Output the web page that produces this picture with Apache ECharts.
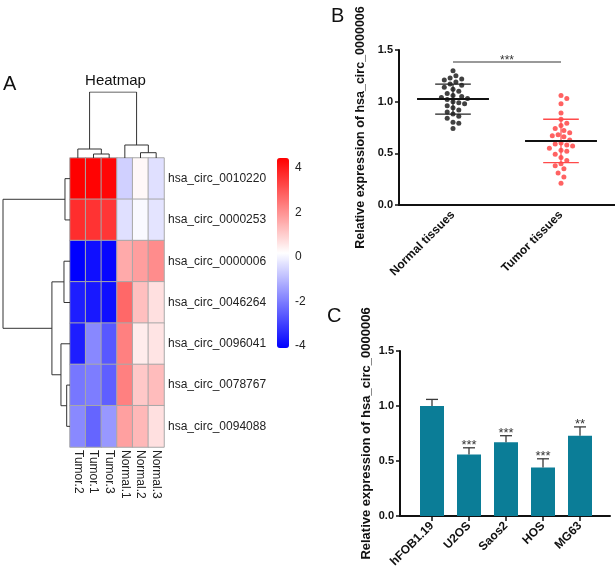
<!DOCTYPE html>
<html>
<head>
<meta charset="utf-8">
<script src="https://cdn.jsdelivr.net/npm/echarts@6/dist/echarts.min.js"></script>
<style>
html,body{margin:0;padding:0;background:#fff;}
#chart{width:615px;height:571px;}
</style>
</head>
<body>
<div id="chart"></div>
<script>
// ---------- Panel A data ----------
const heatCols = ['Tumor.2', 'Tumor.1', 'Tumor.3', 'Normal.1', 'Normal.2', 'Normal.3'];
const heatRows = ['hsa_circ_0010220', 'hsa_circ_0000253', 'hsa_circ_0000006', 'hsa_circ_0046264', 'hsa_circ_0096041', 'hsa_circ_0078767', 'hsa_circ_0094088'];
const heatValues = [
  [4.45, 4.40, 4.35, -0.61, 0.30, -0.34],
  [3.70, 3.60, 3.55, -0.34, 0.08, -0.27],
  [-4.10, -3.85, -4.00, 1.60, 1.80, 2.10],
  [-3.60, -3.70, -3.85, 2.70, 1.24, 0.69],
  [-3.60, -1.82, -2.63, 2.31, 0.50, 0.63],
  [-2.10, -2.00, -2.50, 2.30, 1.10, 1.30],
  [-1.80, -2.40, -1.55, 1.77, 1.37, 0.69]
];
const heatMin = -4.1, heatMax = 4.45;
const colorbarTicks = [-4, -2, 0, 2, 4];
// dendrogram merges: [childA, childB, height]; leaves 'L<i>', merges 'M<i>'
const rowMerges = [
  ['L0', 'L1', 5],
  ['L5', 'L6', 3.3],
  ['L2', 'L3', 6],
  ['L4', 'M1', 9],
  ['M2', 'M3', 18],
  ['M0', 'M4', 66.7]
];
const colMerges = [
  ['L1', 'L2', 4],
  ['L0', 'M0', 9],
  ['L4', 'L5', 5.3],
  ['L3', 'M2', 13],
  ['M1', 'M3', 66]
];

// ---------- Panel B data ----------
const tissueGroups = ['Normal tissues', 'Tumor tissues'];
const normalVals = [1.30, 1.25, 1.23, 1.22, 1.21, 1.19, 1.17, 1.16, 1.14, 1.12, 1.10, 1.08, 1.06, 1.05, 1.04,
  1.03, 1.02, 1.00, 0.99, 0.98, 0.96, 0.94, 0.92, 0.90, 0.88, 0.86, 0.84, 0.80, 0.79, 0.74];
const tumorVals = [1.06, 1.03, 0.98, 0.89, 0.83, 0.79, 0.77, 0.74, 0.72, 0.70, 0.68, 0.67, 0.66, 0.63, 0.60,
  0.59, 0.58, 0.57, 0.55, 0.53, 0.52, 0.49, 0.46, 0.43, 0.40, 0.38, 0.35, 0.31, 0.27, 0.21];
const groupMeans = [1.025, 0.62];
const groupSDs = [0.145, 0.21];
const sigLevelB = 1.385;
const sigTextB = '***';

// ---------- Panel C data ----------
const cellLines = ['hFOB1.19', 'U2OS', 'Saos2', 'HOS', 'MG63'];
const cellMeans = [1.00, 0.56, 0.67, 0.44, 0.73];
const cellErr = [0.06, 0.06, 0.06, 0.08, 0.08];
const cellStars = ['', '***', '***', '***', '**'];

const yTicks = [0, 0.5, 1.0, 1.5];

// ---------- helpers ----------
const FONT = 'Liberation Sans, Arial, sans-serif';
function dendroSegments(merges, nLeaves) {
  const nodes = {};
  for (let i = 0; i < nLeaves; i++) nodes['L' + i] = { pos: i + 0.5, h: 0 };
  const segs = [];
  merges.forEach((m, k) => {
    const a = nodes[m[0]], b = nodes[m[1]], h = m[2];
    nodes['M' + k] = { pos: (a.pos + b.pos) / 2, h: h };
    segs.push([[a.h, a.pos], [h, a.pos], [h, b.pos], [b.h, b.pos]]);
  });
  return segs;
}
const rowSegs = dendroSegments(rowMerges, heatRows.length).map(s => ({ coords: s }));
const colSegs = dendroSegments(colMerges, heatCols.length).map(s => ({ coords: s.map(p => [p[1], p[0]]) }));

const heatData = [];
heatValues.forEach((row, r) => row.forEach((v, c) => heatData.push([c, r, v])));

// beeswarm layout of dots (value axis x: 0..2 over 216px, y: 0..1.5 over 155px)
function swarm(vals, center) {
  const xPx = 108, yPx = 155 / 1.5, d = 5.6, step = 2.9;
  const placed = [];
  const order = vals.map((v, i) => i).sort((a, b) => vals[b] - vals[a]);
  const out = new Array(vals.length);
  order.forEach(i => {
    const y = vals[i];
    for (let k = 0; k < 40; k++) {
      const off = (k === 0 ? 0 : (k % 2 ? 1 : -1) * Math.ceil(k / 2)) * step;
      const ok = placed.every(p => {
        const dx = off - p[0], dy = (y - p[1]) * yPx;
        return dx * dx + dy * dy >= d * d;
      });
      if (ok) { placed.push([off, y]); out[i] = [center + off / xPx, y]; break; }
    }
  });
  return out;
}
const normalPts = swarm(normalVals, 0.5);
const tumorPts = swarm(tumorVals, 1.5);

const axisBold = { fontFamily: FONT, fontWeight: 'bold', color: '#111' };

function summaryRender(meanColor, sdColor) {
  return function (params, api) {
    const c = api.value(0), m = api.value(1), s = api.value(2);
    const line = (x1, y1, x2, y2, col, w) => ({
      type: 'line',
      shape: { x1: x1[0], y1: y1, x2: x2[0], y2: y2 },
      style: { stroke: col, lineWidth: w }
    });
    const pm1 = api.coord([c - 0.333, m]), pm2 = api.coord([c + 0.333, m]);
    const pu1 = api.coord([c - 0.165, m + s]), pu2 = api.coord([c + 0.165, m + s]);
    const pl1 = api.coord([c - 0.165, m - s]), pl2 = api.coord([c + 0.165, m - s]);
    const pc = api.coord([c, m + s]), pcl = api.coord([c, m - s]);
    return {
      type: 'group', children: [
        line(pc, pc[1], pcl, pcl[1], sdColor, 1.2),
        line(pu1, pu1[1], pu2, pu2[1], sdColor, 1.3),
        line(pl1, pl1[1], pl2, pl2[1], sdColor, 1.3),
        line(pm1, pm1[1], pm2, pm2[1], meanColor, 2)
      ]
    };
  };
}

const option = {
  animation: false,
  backgroundColor: '#fff',
  textStyle: { fontFamily: FONT },
  graphic: [
    { type: 'text', left: 3, top: 74, style: { text: 'A', font: '20px ' + FONT, fill: '#111' } },
    { type: 'text', left: 331, top: 6, style: { text: 'B', font: '20px ' + FONT, fill: '#111' } },
    { type: 'text', left: 327, top: 306, style: { text: 'C', font: '20px ' + FONT, fill: '#111' } },
    { type: 'text', x: 115.5, y: 81, style: { text: 'Heatmap', font: '15px ' + FONT, fill: '#111', textAlign: 'center', textVerticalAlign: 'middle' } }
  ],
  visualMap: {
    type: 'continuous', min: heatMin, max: heatMax, seriesIndex: 0, calculable: false,
    orient: 'vertical', left: 277, top: 158, itemWidth: 12, itemHeight: 190, padding: 0,
    text: ['', ''], showLabel: false,
    inRange: { color: ['#0000ff', '#ffffff', '#ff0000'] }
  },
  grid: [
    { left: 70, top: 158, width: 94, height: 289 },   // 0 heatmap
    { left: 3, top: 158, width: 67, height: 289 },    // 1 row dendro
    { left: 70, top: 92, width: 94, height: 66 },     // 2 col dendro
    { left: 277, top: 158, width: 12, height: 190 },  // 3 colorbar labels
    { left: 399, top: 50, width: 216, height: 155 },  // 4 panel B
    { left: 400, top: 351, width: 210, height: 165 }, // 5 panel C frame
    { left: 413.5, top: 351, width: 185, height: 165 } // 6 panel C bars
  ],
  xAxis: [
    { gridIndex: 0, type: 'category', data: heatCols, position: 'bottom',
      axisLine: { show: false }, axisTick: { show: false },
      axisLabel: { rotate: -90, fontSize: 12, color: '#222', margin: 3, fontFamily: FONT } },
    { gridIndex: 1, type: 'value', min: 0, max: 66.7, inverse: true, show: false },
    { gridIndex: 2, type: 'value', min: 0, max: 6, show: false },
    { gridIndex: 3, type: 'value', min: 0, max: 1, show: false },
    { gridIndex: 4, type: 'category', data: tissueGroups, boundaryGap: true,
      axisLine: { lineStyle: { color: '#111', width: 2 } },
      axisTick: { alignWithLabel: true, length: 5, lineStyle: { color: '#111', width: 1.5 } },
      axisLabel: Object.assign({ rotate: 45, fontSize: 12, margin: 8, interval: 0 }, axisBold) },
    { gridIndex: 4, type: 'value', min: 0, max: 2, show: false },
    { gridIndex: 5, type: 'value', min: 0, max: 1,
      axisLine: { show: true, onZero: false, lineStyle: { color: '#111', width: 2 } },
      axisTick: { show: false }, axisLabel: { show: false }, splitLine: { show: false } },
    { gridIndex: 6, type: 'category', data: cellLines, boundaryGap: true,
      axisLine: { show: false },
      axisTick: { show: true, alignWithLabel: true, length: 5, lineStyle: { color: '#111', width: 1.5 } },
      axisLabel: Object.assign({ rotate: 45, fontSize: 12, margin: 8, interval: 0 }, axisBold) }
  ],
  yAxis: [
    { gridIndex: 0, type: 'category', data: heatRows, inverse: true, position: 'right',
      axisLine: { show: false }, axisTick: { show: false },
      axisLabel: { fontSize: 12, color: '#222', margin: 4, fontFamily: FONT } },
    { gridIndex: 1, type: 'value', min: 0, max: 7, inverse: true, show: false },
    { gridIndex: 2, type: 'value', min: 0, max: 66, show: false },
    { gridIndex: 3, type: 'value', min: heatMin, max: heatMax, position: 'right',
      axisLine: { show: false }, axisTick: { show: false }, splitLine: { show: false },
      axisLabel: { customValues: colorbarTicks, fontSize: 12, color: '#222', margin: 6, fontFamily: FONT } },
    { gridIndex: 4, type: 'value', min: 0, max: 1.5, interval: 0.5,
      name: 'Relative expression of hsa_circ_0000006', nameLocation: 'middle', nameGap: 32,
      nameTextStyle: { fontSize: 12.5, fontWeight: 'bold', color: '#111', fontFamily: FONT },
      axisLine: { show: true, lineStyle: { color: '#111', width: 2 } },
      axisTick: { show: true, length: 4, lineStyle: { color: '#111', width: 1.5 } },
      splitLine: { show: false },
      axisLabel: Object.assign({ fontSize: 11, margin: 6, formatter: v => v.toFixed(1) }, axisBold) },
    { gridIndex: 5, type: 'value', min: 0, max: 1.5, interval: 0.5,
      name: 'Relative expression of hsa_circ_0000006', nameLocation: 'middle', nameGap: 27,
      nameTextStyle: { fontSize: 13, fontWeight: 'bold', color: '#111', fontFamily: FONT },
      axisLine: { show: true, lineStyle: { color: '#111', width: 2 } },
      axisTick: { show: true, length: 4, lineStyle: { color: '#111', width: 1.5 } },
      splitLine: { show: false },
      axisLabel: Object.assign({ fontSize: 11, margin: 6, formatter: v => v.toFixed(1) }, axisBold) },
    { gridIndex: 6, type: 'value', min: 0, max: 1.5, show: false }
  ],
  series: [
    { type: 'heatmap', xAxisIndex: 0, yAxisIndex: 0, data: heatData,
      itemStyle: { borderColor: '#a8a8a8', borderWidth: 1 }, emphasis: { disabled: true } },
    { type: 'lines', coordinateSystem: 'cartesian2d', xAxisIndex: 1, yAxisIndex: 1, polyline: true,
      data: rowSegs, lineStyle: { color: '#333', width: 1, opacity: 1, curveness: 0 }, silent: true },
    { type: 'lines', coordinateSystem: 'cartesian2d', xAxisIndex: 2, yAxisIndex: 2, polyline: true,
      data: colSegs, lineStyle: { color: '#333', width: 1, opacity: 1, curveness: 0 }, silent: true },
    // Panel B dots
    { type: 'scatter', xAxisIndex: 5, yAxisIndex: 4, data: normalPts, symbolSize: 5,
      itemStyle: { color: '#111' }, silent: true },
    { type: 'scatter', xAxisIndex: 5, yAxisIndex: 4, data: tumorPts, symbolSize: 5,
      itemStyle: { color: '#ff3b3b' }, silent: true },
    { type: 'custom', xAxisIndex: 5, yAxisIndex: 4, data: [[0.5, groupMeans[0], groupSDs[0]]],
      renderItem: summaryRender('#111', '#222'), silent: true, z: 5 },
    { type: 'custom', xAxisIndex: 5, yAxisIndex: 4, data: [[1.5, groupMeans[1], groupSDs[1]]],
      renderItem: summaryRender('#111', '#ff4a4a'), silent: true, z: 5 },
    { type: 'custom', xAxisIndex: 5, yAxisIndex: 4, data: [[0.5, 1.5, sigLevelB]], silent: true,
      renderItem: function (params, api) {
        const p1 = api.coord([api.value(0), api.value(2)]), p2 = api.coord([api.value(1), api.value(2)]);
        return { type: 'group', children: [
          { type: 'line', shape: { x1: p1[0], y1: p1[1], x2: p2[0], y2: p2[1] }, style: { stroke: '#777', lineWidth: 1.5 } },
          { type: 'text', style: { text: sigTextB, x: (p1[0] + p2[0]) / 2, y: p1[1] - 7, textAlign: 'center', textVerticalAlign: 'top', font: '12px ' + FONT, fill: '#333' } }
        ] };
      } },
    // Panel C bars
    { type: 'bar', xAxisIndex: 7, yAxisIndex: 6, data: cellMeans, barWidth: 24,
      itemStyle: { color: '#0b7d97' }, silent: true },
    { type: 'custom', xAxisIndex: 7, yAxisIndex: 6, data: cellMeans.map((m, i) => [i, m]), silent: true, z: 5,
      renderItem: function (params, api) {
        const i = params.dataIndex;
        const top = api.coord([i, cellMeans[i] + cellErr[i]]);
        const base = api.coord([i, cellMeans[i]]);
        const ch = [
          { type: 'line', shape: { x1: top[0], y1: top[1], x2: base[0], y2: base[1] }, style: { stroke: '#3a3a3a', lineWidth: 1.3 } },
          { type: 'line', shape: { x1: top[0] - 6, y1: top[1], x2: top[0] + 6, y2: top[1] }, style: { stroke: '#3a3a3a', lineWidth: 1.3 } }
        ];
        if (cellStars[i]) ch.push({ type: 'text', style: { text: cellStars[i], x: top[0], y: top[1] - 8.5, textAlign: 'center', textVerticalAlign: 'top', font: '13px ' + FONT, fill: '#333' } });
        return { type: 'group', children: ch };
      } }
  ]
};
const chart = echarts.init(document.getElementById('chart'), null, { renderer: 'canvas' });
chart.setOption(option);
</script>
</body>
</html>
